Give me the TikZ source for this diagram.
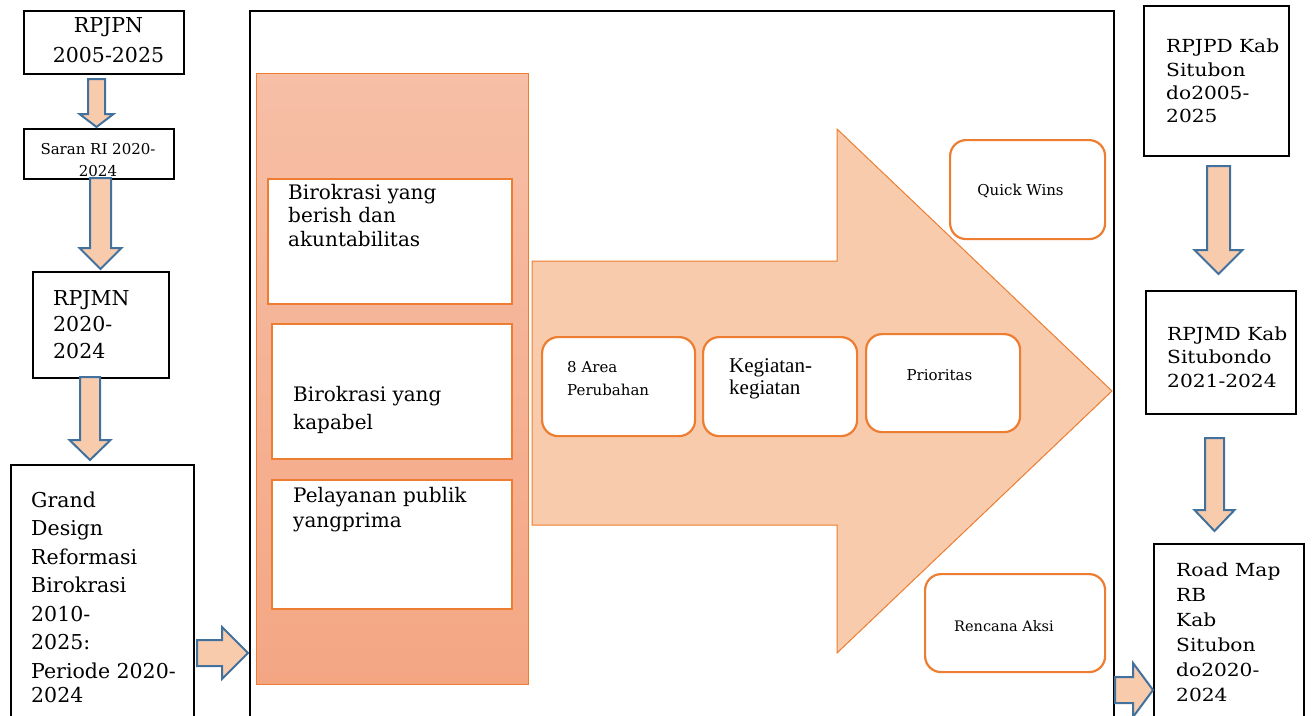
\documentclass[tikz,border=0pt]{standalone}
\usepackage{fontspec}
\setmainfont{DejaVu Serif}
\newfontfamily\widefont[FakeStretch=1.12]{DejaVu Serif}
\newfontfamily\timesfont{Liberation Serif}
\definecolor{peach}{HTML}{F8CBAD}
\definecolor{arrowblue}{HTML}{41719C}
\definecolor{orng}{HTML}{ED7D31}
\definecolor{bigfill}{HTML}{F7CBAC}
\definecolor{coltop}{HTML}{F6BFA6}
\definecolor{colbot}{HTML}{F4A683}
\tikzset{
  blackbox/.style={draw=black, line width=2pt, fill=white, anchor=north west, inner sep=0},
  obox/.style={draw=orng, line width=2.2pt, fill=white, anchor=north west, inner sep=0},
  rbox/.style={obox, rounded corners=16pt},
  blockarrow/.style={draw=arrowblue, fill=peach, line width=2pt, line join=miter},
  bigarrow/.style={draw=orng, fill=bigfill, line width=1pt},
  txt/.style={inner sep=0, text=black},
  bigtxt/.style={txt, font=\fontsize{20.5}{24}\selectfont},
  midtxt/.style={txt, font=\fontsize{20}{24}\selectfont},
  smalltxt/.style={txt, font=\fontsize{15}{18}\selectfont},
  widetxt/.style={txt, font=\widefont\fontsize{18}{22}\selectfont},
}
\newcommand\tlines[6]{\foreach \l [count=\i from 0] in {#6} {\node[#2] (#1\i) at (#3,{#4+\i*#5}) {\l};}}
\newcommand\dnarrow[6]{\draw[blockarrow] ({#1-#5},#2) -- ({#1+#5},#2) -- ({#1+#5},#3) -- ({#1+#6},#3) -- (#1,#4) -- ({#1-#6},#3) -- ({#1-#5},#3) -- cycle;}
\newcommand\rtarrow[6]{\draw[blockarrow] (#2,{#1-#5}) -- (#3,{#1-#5}) -- (#3,{#1-#6}) -- (#4,#1) -- (#3,{#1+#6}) -- (#3,{#1+#5}) -- (#2,{#1+#5}) -- cycle;}
\begin{document}
\begin{tikzpicture}[x=1pt,y=-1pt]
\useasboundingbox[fill=white] (0,0) rectangle (1314,715);
% frame
\node[blackbox, fill=none, minimum width=864pt, minimum height=740pt] (frame) at (249,10) {};
% left column boxes
\node[blackbox, minimum width=160pt, minimum height=63pt] (rpjpn) at (23,10) {};
\node[blackbox, minimum width=150pt, minimum height=50pt] (saran) at (23,128) {};
\node[blackbox, minimum width=136pt, minimum height=106pt] (rpjmn) at (32,271) {};
\node[blackbox, minimum width=183pt, minimum height=280pt] (grand) at (10,464) {};
% orange column
\node[draw=orng, line width=0.8pt, top color=coltop, bottom color=colbot, anchor=north west, inner sep=0, minimum width=272pt, minimum height=611pt] (col) at (256,73) {};
\node[obox, minimum width=244pt, minimum height=125pt] (b1) at (267,178) {};
\node[obox, minimum width=240pt, minimum height=135pt] (b2) at (271,323) {};
\node[obox, minimum width=240pt, minimum height=129pt] (b3) at (271,479) {};
% big arrow
\draw[bigarrow] (532,261) -- (837,261) -- (837,129) -- (1112,391) -- (837,653) -- (837,525) -- (532,525) -- cycle;
% rounded boxes
\node[rbox, minimum width=153pt, minimum height=99pt] (area) at (541,336) {};
\node[rbox, minimum width=154pt, minimum height=99pt] (keg) at (702,336) {};
\node[rbox, minimum width=154pt, minimum height=98pt] (prio) at (865,333) {};
\node[rbox, minimum width=155pt, minimum height=99pt] (quick) at (949,139) {};
\node[rbox, minimum width=180pt, minimum height=98pt] (renc) at (924,573) {};
% right column boxes
\node[blackbox, minimum width=145pt, minimum height=150pt] (rpjpd) at (1143,5) {};
\node[blackbox, minimum width=150pt, minimum height=123pt] (rpjmd) at (1145,290) {};
\node[blackbox, minimum width=150pt, minimum height=200pt] (road) at (1153,543) {};
% texts
\tlines{trpjpn}{bigtxt, anchor=base}{108.5}{32.5}{29.5}{RPJPN,2005-2025}
\tlines{tsaran}{smalltxt, anchor=base}{98}{154}{22.5}{Saran RI 2020-,2024}
\tlines{trpjmn}{bigtxt, anchor=base west}{53}{305}{26.5}{RPJMN,2020-,2024}
\tlines{tgrand}{bigtxt, anchor=base west}{31}{507}{28.5}{Grand,Design,Reformasi,Birokrasi,2010-,2025:,Periode 2020-}
\node[bigtxt, anchor=base west] (tgrandz) at (31,702) {2024};
\tlines{tb1}{midtxt, anchor=base west}{288}{199}{23.7}{Birokrasi yang,berish dan,akuntabilitas}
\tlines{tb2}{midtxt, anchor=base west}{293}{401}{28}{Birokrasi yang,kapabel}
\tlines{tb3}{midtxt, anchor=base west}{293}{502}{25}{Pelayanan publik,yangprima}
\tlines{tarea}{smalltxt, anchor=base west}{567}{372}{23}{8 Area,Perubahan}
\tlines{tkeg}{txt, font=\timesfont\fontsize{21}{24}\selectfont, anchor=base west}{729}{372}{22}{Kegiatan-,kegiatan}
\node[smalltxt, anchor=base] (tprio) at (939.5,380) {Prioritas};
\node[smalltxt, anchor=base] (tquick) at (1020.5,195) {Quick Wins};
\node[txt, font=\fontsize{14.5}{18}\selectfont, anchor=base] (trenc) at (1004,631) {Rencana Aksi};
\tlines{trpjpd}{widetxt, anchor=base west}{1166}{52.7}{23.3}{RPJPD Kab,Situbon,do2005-,2025}
\tlines{trpjmd}{widetxt, anchor=base west}{1167}{340}{23.5}{RPJMD Kab,Situbondo,2021-2024}
\tlines{troad}{widetxt, anchor=base west}{1176}{576}{25}{Road Map,RB,Kab,Situbon,do2020-,2024}
% block arrows
\dnarrow{96.5}{79}{114}{127}{8.5}{17}
\dnarrow{100.5}{178}{248}{269}{10.5}{21}
\dnarrow{90}{377}{440}{460}{10}{20.5}
\rtarrow{653}{197}{222}{248}{13}{26}
\dnarrow{1218.5}{166}{250}{274}{11.5}{24}
\dnarrow{1214.5}{438}{510}{531}{9.5}{20}
\rtarrow{690}{1115}{1133}{1153}{13}{27}
\end{tikzpicture}
\end{document}
